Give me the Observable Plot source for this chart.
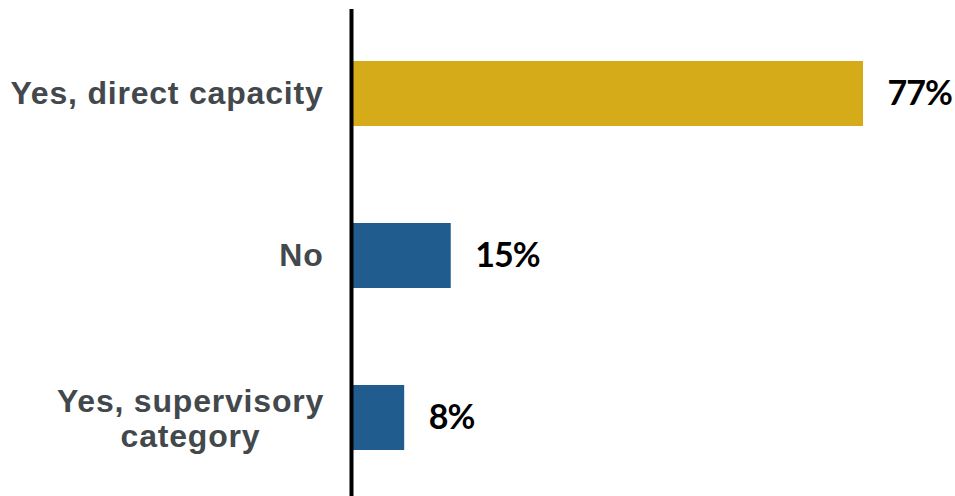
<!DOCTYPE html>
<html>
<head>
<meta charset="utf-8">
<script src="https://cdn.jsdelivr.net/npm/d3@7"></script>
<script src="https://cdn.jsdelivr.net/npm/@observablehq/plot@0.6"></script>
<style>
  html, body { margin: 0; padding: 0; background: #fff; }
  #chart { width: 955px; height: 496px; overflow: hidden; }
  .cat-label { letter-spacing: 0.8px; }
  .val-label { letter-spacing: -1px; }
</style>
</head>
<body>
<div id="chart"></div>
<script>
const categories = ["Yes, direct capacity", "No", "Yes, supervisory\ncategory"];
const values = [77, 15, 8];
const valueLabels = ["77%", "15%", "8%"];
const barColors = ["#D6AB19", "#215C8E", "#215C8E"];

const data = categories.map((c, i) => ({cat: c, value: values[i], label: valueLabels[i], color: barColors[i], multi: c.includes("\n")}));

const labelFont = "'Liberation Sans', Arial, sans-serif";
const valueFont = "Lato, sans-serif";

const chart = Plot.plot({
  width: 955,
  height: 496,
  marginLeft: 351,
  marginRight: 92,
  marginTop: 9,
  marginBottom: 0,
  x: {domain: [0, 77], axis: null},
  y: {domain: categories, range: [11, 499], paddingInner: 0.6, paddingOuter: 0.3, axis: null},
  marks: [
    Plot.barX(data, {x: "value", y: "cat", fill: "color"}),
    Plot.ruleX([0], {stroke: "#000", strokeWidth: 4}),
    Plot.text(data.filter(d => !d.multi), {
      x: 0, y: "cat", text: "cat", textAnchor: "end", dx: -28, className: "cat-label",
      fontSize: 32, fontWeight: "bold", fill: "#43484D", fontFamily: labelFont
    }),
    Plot.text(data.filter(d => d.multi), {
      x: 0, y: "cat", text: "cat", textAnchor: "middle", dx: -161, className: "cat-label",
      fontSize: 32, fontWeight: "bold", fill: "#43484D", fontFamily: labelFont, lineHeight: 1.12
    }),
    Plot.text(data, {
      x: "value", y: "cat", text: "label", textAnchor: "start", dx: 24, className: "val-label",
      fontSize: 34, fontWeight: "bold", fill: "#000", fontFamily: valueFont
    })
  ]
});
document.getElementById("chart").appendChild(chart);
</script>
</body>
</html>
